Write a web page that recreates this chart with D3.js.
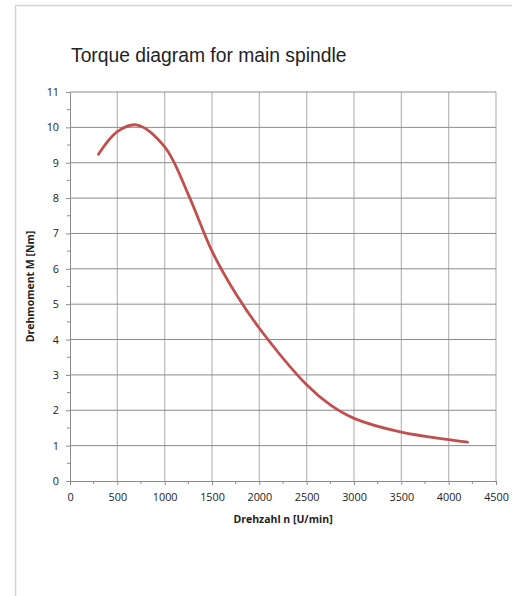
<!DOCTYPE html>
<html lang="en">
  <meta charset="utf-8" />
  <head>
    <title>Torque diagram</title>
    <script src="https://cdn.jsdelivr.net/npm/d3@7"></script>
    <style>
      body { margin: 0; background: #fff; }
    </style>
  </head>
  <body>
  <script>
    // DATA
    var speed  = [300, 500, 700, 1000, 1250, 1500, 1750, 2000, 2500, 2750, 3000, 3500, 4000, 4200];
    var torque = [9.24, 9.88, 10.07, 9.45, 8.1, 6.5, 5.3, 4.32, 2.72, 2.15, 1.77, 1.38, 1.17, 1.1];
    var xTicks = [0, 500, 1000, 1500, 2000, 2500, 3000, 3500, 4000, 4500];
    var yTicks = [0, 1, 2, 3, 4, 5, 6, 7, 8, 9, 10, 11];

    // CONFIG
    var width = 512, height = 596;
    var mLeft = 70, mRight = 496, mTop = 92, mBottom = 481;
    var labelFont = "'Open Sans', 'Liberation Sans', sans-serif";

    var svg = d3.select("body").append("svg")
        .attr("width", width)
        .attr("height", height);

    // outer frame (only top + left show)
    svg.append("path")
       .attr("d", "M15.5,600 L15.5,5.5 L520,5.5")
       .attr("fill", "none")
       .attr("stroke", "#d4d4d4")
       .attr("stroke-width", 1.5);

    var x = d3.scaleLinear().domain([0, 4500]).range([mLeft, mRight]);
    var y = d3.scaleLinear().domain([0, 11]).range([mBottom, mTop]);

    // grid
    svg.append("g").selectAll("line")
       .data(xTicks.slice(1)).enter()
       .append("line")
         .attr("x1", (d)=>x(d)).attr("x2", (d)=>x(d))
         .attr("y1", mTop).attr("y2", mBottom)
         .attr("stroke", "#bdbdbd").attr("stroke-width", 1.3);

    svg.append("g").selectAll("line")
       .data(yTicks.slice(1)).enter()
       .append("line")
         .attr("x1", mLeft).attr("x2", mRight)
         .attr("y1", (d)=>y(d)).attr("y2", (d)=>y(d))
         .attr("stroke", "#8c8c8c").attr("stroke-width", 1);

    // minor ticks
    var yMinor = d3.range(0.5, 11, 1);
    svg.append("g").selectAll("line")
       .data(yMinor).enter()
       .append("line")
         .attr("x1", mLeft - 3).attr("x2", mLeft)
         .attr("y1", (d)=>y(d)).attr("y2", (d)=>y(d))
         .attr("stroke", "#8c8c8c");
    var xMinor = d3.range(250, 4500, 500);
    svg.append("g").selectAll("line")
       .data(xMinor).enter()
       .append("line")
         .attr("x1", (d)=>x(d)).attr("x2", (d)=>x(d))
         .attr("y1", mBottom).attr("y2", mBottom + 3)
         .attr("stroke", "#8c8c8c");

    // axes
    var xAxis = svg.append("g")
       .attr("transform", `translate(0,${mBottom})`)
       .call(d3.axisBottom(x).tickValues(xTicks).tickSize(4).tickPadding(8).tickFormat(d3.format("d")));
    var yAxis = svg.append("g")
       .attr("transform", `translate(${mLeft},0)`)
       .call(d3.axisLeft(y).tickValues(yTicks).tickSize(4).tickPadding(7));

    [xAxis, yAxis].forEach(function(a) {
      a.attr("font-family", labelFont).attr("font-size", 10.8);
      a.select(".domain").attr("stroke", "#8c8c8c");
      a.selectAll(".tick line").attr("stroke", "#8c8c8c");
      a.selectAll("text").attr("fill", "#222");
    });

    // curve
    var line = d3.line()
      .x((d)=>x(d[0]))
      .y((d)=>y(d[1]))
      .curve(d3.curveCatmullRom.alpha(0.5));

    svg.append("path")
       .datum(speed.map((s, i)=>[s, torque[i]]))
       .attr("d", line)
       .attr("fill", "none")
       .attr("stroke", "#c0504d")
       .attr("stroke-width", 2.8)
       .attr("stroke-linecap", "round");

    // titles
    svg.append("text")
       .attr("x", 71).attr("y", 62)
       .attr("font-family", "'Liberation Sans', Arial, sans-serif")
       .attr("font-size", 19.3)
       .attr("fill", "#222")
       .text("Torque diagram for main spindle");

    svg.append("text")
       .attr("x", (mLeft+mRight)/2).attr("y", 523)
       .attr("text-anchor", "middle")
       .attr("font-family", labelFont)
       .attr("font-size", 10.5)
       .attr("font-weight", "bold")
       .attr("fill", "#222")
       .text("Drehzahl n [U/min]");

    svg.append("text")
       .attr("transform", `translate(34,${(mTop+mBottom)/2}) rotate(-90)`)
       .attr("text-anchor", "middle")
       .attr("font-family", labelFont)
       .attr("font-size", 10.5)
       .attr("font-weight", "bold")
       .attr("fill", "#222")
       .text("Drehmoment M [Nm]");
</script>
</body>
</html>
